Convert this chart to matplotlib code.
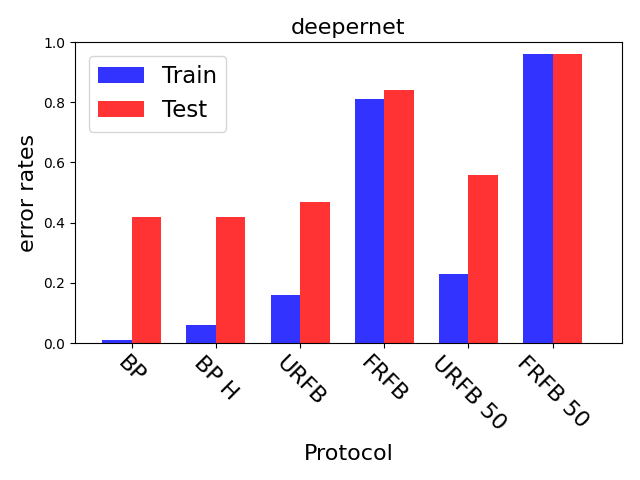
import numpy as np
import matplotlib
matplotlib.use("Agg")
import matplotlib.pyplot as plt

protocols = ["BP", "BP H", "URFB", "FRFB", "URFB 50", "FRFB 50"]
train_err = [0.01, 0.06, 0.16, 0.81, 0.23, 0.96]
test_err = [0.42, 0.42, 0.47, 0.84, 0.56, 0.96]

index = np.arange(len(protocols))
bar_width = 0.35

fig, ax = plt.subplots(figsize=(6.4, 4.8), dpi=100)
ax.bar(index, train_err, bar_width, alpha=0.8, color="b", label="Train")
ax.bar(index + bar_width, test_err, bar_width, alpha=0.8, color="r", label="Test")
ax.set_xticks(index + bar_width / 2)
ax.set_xticklabels(protocols, rotation=-45, fontsize=16)
ax.set_xlim(-0.5, 6.0)
ax.set_ylim(0, 1.0)
ax.set_xlabel("Protocol", fontsize=16, labelpad=7)
ax.set_ylabel("error rates", fontsize=16)
ax.set_title("deepernet", fontsize=16)
ax.legend(fontsize=16.5, loc="upper left", borderaxespad=0.6)
fig.subplots_adjust(left=0.117, right=0.972, top=0.9125, bottom=0.285)
fig.savefig("out.png", dpi=100)
